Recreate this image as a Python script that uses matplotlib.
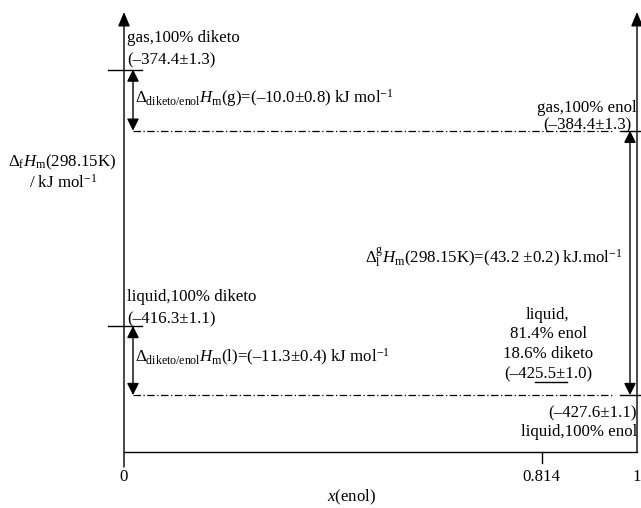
import matplotlib
matplotlib.use("Agg")
import matplotlib.pyplot as plt
from matplotlib.patches import FancyArrowPatch

plt.rcParams['font.family'] = ['Liberation Serif', 'DejaVu Serif']
plt.rcParams['mathtext.fontset'] = 'custom'
plt.rcParams['mathtext.rm'] = 'Liberation Serif'
plt.rcParams['mathtext.it'] = 'Liberation Serif:italic'
plt.rcParams['mathtext.bf'] = 'Liberation Serif:bold'

# enthalpies of formation, kJ/mol
h_gas_diketo = -374.4
h_gas_enol = -384.4
h_liq_diketo = -416.3
h_liq_enol = -427.6
h_liq_mix = -425.5
x_mix = 0.814
x_ticks = [0, 0.814, 1]
x_tick_labels = ['0', '0.814', '1']

W, H = 641, 508
fig = plt.figure(figsize=(W / 100, H / 100), dpi=100)
ax = fig.add_axes([124 / W, 56 / H, 513 / W, 440 / H])
y0, y1 = -436.9, -365.0
ax.set_xlim(0, 1)
ax.set_ylim(y0, y1)
ax.axis('off')


def X(px):
    return (px - 124) / 513


def Y(py):
    return y1 - (py - 12) * (y1 - y0) / 440


fs = 12.2
lk = dict(color='black', lw=1.0, clip_on=False)
dd = dict(color='black', lw=0.9, ls=(0, (6, 2, 1, 2)), clip_on=False)
DASH = '\u2013'
PM = '\u00b1'


def arrow(x, ya, yb, style, ms=12):
    a = FancyArrowPatch((x, ya), (x, yb), arrowstyle=style, mutation_scale=ms,
                        color='black', lw=1.0, shrinkA=0, shrinkB=0, clip_on=False)
    ax.add_patch(a)


# axes
arrow(0, Y(467), y1, '-|>,head_length=0.72,head_width=0.3')
arrow(1, y0, y1, '-|>,head_length=0.72,head_width=0.3')
ax.plot([0, 1], [y0, y0], **lk)
ax.plot([x_mix, x_mix], [y0, Y(463)], **lk)
for xt, lab in zip(x_ticks, x_tick_labels):
    ax.text(xt, Y(477), lab, fontsize=fs, ha='center', va='center')
ax.text(X(352), Y(497), r'$x$(enol)', fontsize=fs, ha='center', va='center')

# levels on the diketo side
for h in (h_gas_diketo, h_liq_diketo):
    ax.plot([X(108), X(142)], [h, h], **lk)
# enol levels on the right
for h in (h_gas_enol, h_liq_enol):
    ax.plot([X(133), X(614)], [h, h], **dd)
    ax.plot([X(620), X(641)], [h, h], **lk)
# mixed liquid
ax.plot([x_mix - 0.012, x_mix + 0.05], [h_liq_mix, h_liq_mix], **lk)

# difference arrows
dbl = '<|-|>,head_length=0.6,head_width=0.3'
arrow(X(133), h_gas_diketo, h_gas_enol, dbl)
arrow(X(133), h_liq_diketo, h_liq_enol, dbl)
arrow(X(630), h_gas_enol, h_liq_enol, dbl)

# labels
ax.text(X(62), Y(162), r'$\Delta_{\mathrm{f}}H_{\mathrm{m}}$(298.15K)', fontsize=fs,
        ha='center', va='center')
ax.text(X(63), Y(183), r'/ kJ mol$^{-1}$', fontsize=fs, ha='center', va='center')

ax.text(X(127), Y(38), 'gas,100% diketo', fontsize=fs, ha='left', va='center')
ax.text(X(127), Y(60), '(%s%.1f%s1.3)' % (DASH, -h_gas_diketo, PM), fontsize=fs,
        ha='left', va='center')
ax.text(X(135), Y(98), r'$\Delta_{\mathrm{diketo/enol}}H_{\mathrm{m}}$(g)=(' + DASH + '10.0' + PM
        + r'0.8) kJ mol$^{-1}$', fontsize=fs, ha='left', va='center')

ax.text(X(637), Y(108), 'gas,100% enol', fontsize=fs, ha='right', va='center')
ax.text(X(631), Y(125), '(%s%.1f%s1.3)' % (DASH, -h_gas_enol, PM), fontsize=fs,
        ha='right', va='center')
ax.text(X(623), Y(258), r'$\Delta_{\mathrm{l}}^{\mathrm{g}}H_{\mathrm{m}}$(298.15K)=(43.2 ' + PM
        + r'0.2) kJ.mol$^{-1}$', fontsize=fs, ha='right', va='center')

ax.text(X(127), Y(297), 'liquid,100% diketo', fontsize=fs, ha='left', va='center')
ax.text(X(127), Y(319), '(%s%.1f%s1.1)' % (DASH, -h_liq_diketo, PM), fontsize=fs,
        ha='left', va='center')
ax.text(X(135), Y(357), r'$\Delta_{\mathrm{diketo/enol}}H_{\mathrm{m}}$(l)=(' + DASH + '11.3' + PM
        + r'0.4) kJ mol$^{-1}$', fontsize=fs, ha='left', va='center')

mix_lines = ['liquid,', '81.4% enol', '18.6% diketo', '(%s%.1f%s1.0)' % (DASH, -h_liq_mix, PM)]
for py, s in zip([315, 334, 354, 374], mix_lines):
    ax.text(X(548), Y(py), s, fontsize=fs, ha='center', va='center')

ax.text(X(637), Y(413), '(%s%.1f%s1.1)' % (DASH, -h_liq_enol, PM), fontsize=fs,
        ha='right', va='center')
ax.text(X(637), Y(432), 'liquid,100% enol', fontsize=fs, ha='right', va='center')

fig.savefig('out.png', dpi=100)
